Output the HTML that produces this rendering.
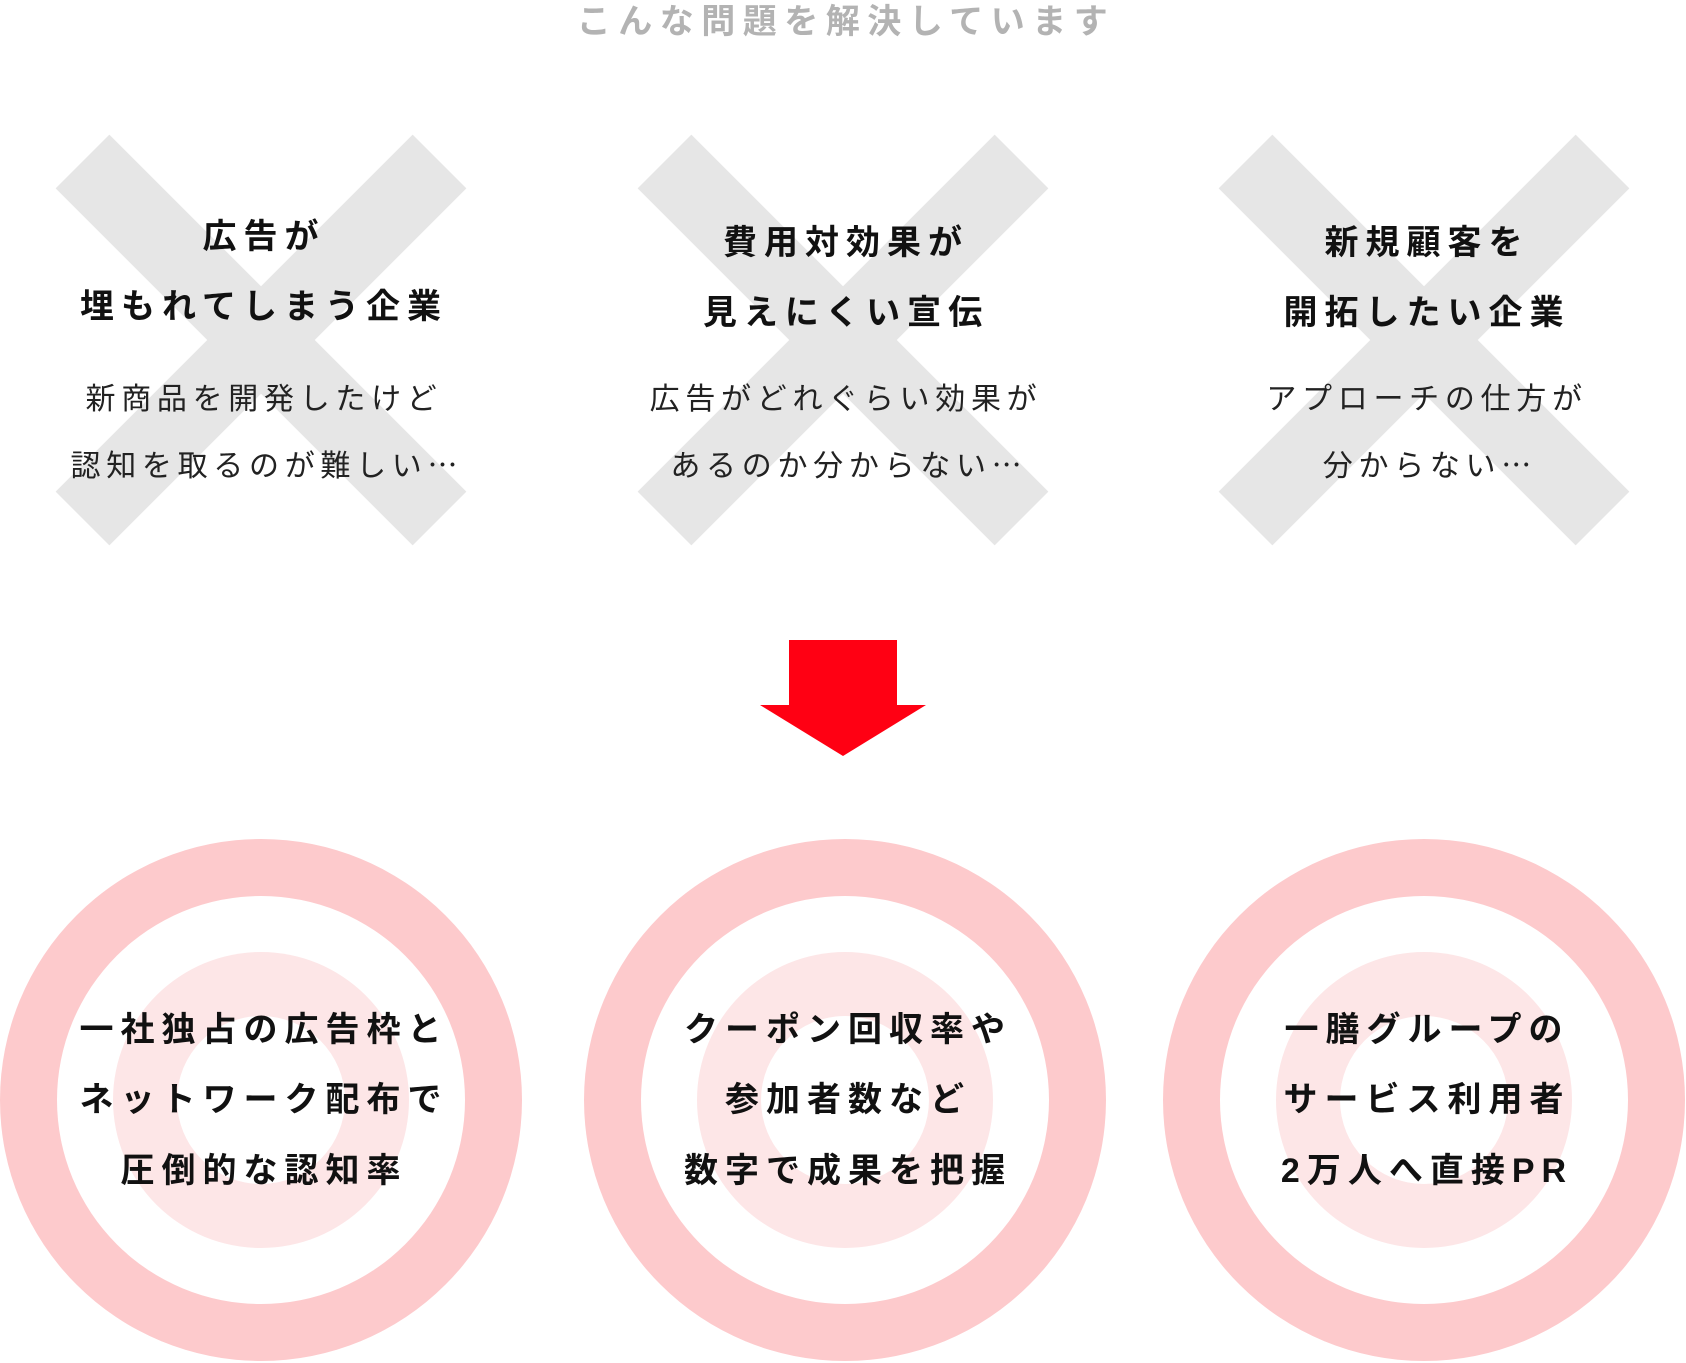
<!DOCTYPE html>
<html><head><meta charset="utf-8"><style>
html,body{margin:0;padding:0;background:#fff;}
body{width:1686px;height:1363px;position:relative;overflow:hidden;font-family:"Liberation Sans","Noto Sans CJK JP",sans-serif;}
.t{position:absolute;width:600px;margin-left:-300px;text-align:center;white-space:nowrap;line-height:1;}
.h{font-size:34px;font-weight:bold;letter-spacing:7px;color:#111;}
.n{font-size:30px;letter-spacing:5.7px;color:#222;}
.ttl{font-size:34px;font-weight:bold;letter-spacing:7.5px;color:#b3b3b3;}
.e{font-family:"Noto Sans CJK JP",sans-serif;letter-spacing:0;}
</style></head><body>
<svg width="1686" height="1363" style="position:absolute;left:0;top:0">
<g stroke="#e6e6e6" stroke-width="76" stroke-linecap="butt">
<line x1="82.5" y1="161.5" x2="439.5" y2="518.5"/><line x1="439.5" y1="161.5" x2="82.5" y2="518.5"/>
<line x1="664.5" y1="161.5" x2="1021.5" y2="518.5"/><line x1="1021.5" y1="161.5" x2="664.5" y2="518.5"/>
<line x1="1245.5" y1="161.5" x2="1602.5" y2="518.5"/><line x1="1602.5" y1="161.5" x2="1245.5" y2="518.5"/>
</g>
<rect x="789" y="640" width="108" height="66" fill="#ff0013"/>
<polygon points="760,705 926,705 843,756" fill="#ff0013"/>
<g>
<circle cx="261" cy="1100" r="261" fill="#fdcacc"/><circle cx="261" cy="1100" r="204" fill="#fff"/><circle cx="261" cy="1100" r="148" fill="#fde6e7"/><circle cx="261" cy="1100" r="84" fill="#fff"/>
<circle cx="845" cy="1100" r="261" fill="#fdcacc"/><circle cx="845" cy="1100" r="204" fill="#fff"/><circle cx="845" cy="1100" r="148" fill="#fde6e7"/><circle cx="845" cy="1100" r="84" fill="#fff"/>
<circle cx="1424" cy="1100" r="261" fill="#fdcacc"/><circle cx="1424" cy="1100" r="204" fill="#fff"/><circle cx="1424" cy="1100" r="148" fill="#fde6e7"/><circle cx="1424" cy="1100" r="84" fill="#fff"/>
</g>
</svg>
<div class="t ttl" style="left:846px;top:5px">こんな問題を解決しています</div>

<div class="t h" style="left:264px;top:220px">広告が</div>
<div class="t h" style="left:264px;top:290px">埋もれてしまう企業</div>
<div class="t n" style="left:264px;top:385px">新商品を開発したけど</div>
<div class="t n" style="left:264px;top:448px">認知を取るのが難しい<span class="e">…</span></div>

<div class="t h" style="left:846px;top:226px">費用対効果が</div>
<div class="t h" style="left:846px;top:296px">見えにくい宣伝</div>
<div class="t n" style="left:846px;top:385px">広告がどれぐらい効果が</div>
<div class="t n" style="left:846px;top:448px">あるのか分からない<span class="e">…</span></div>

<div class="t h" style="left:1427px;top:226px">新規顧客を</div>
<div class="t h" style="left:1427px;top:296px">開拓したい企業</div>
<div class="t n" style="left:1427px;top:385px">アプローチの仕方が</div>
<div class="t n" style="left:1427px;top:448px">分からない<span class="e">…</span></div>

<div class="t h" style="left:264px;top:1013px">一社独占の広告枠と</div>
<div class="t h" style="left:264px;top:1083px">ネットワーク配布で</div>
<div class="t h" style="left:264px;top:1154px">圧倒的な認知率</div>

<div class="t h" style="left:848px;top:1013px">クーポン回収率や</div>
<div class="t h" style="left:848px;top:1083px">参加者数など</div>
<div class="t h" style="left:848px;top:1154px">数字で成果を把握</div>

<div class="t h" style="left:1427px;top:1013px">一膳グループの</div>
<div class="t h" style="left:1427px;top:1083px">サービス利用者</div>
<div class="t h" style="left:1427px;top:1154px">2万人へ直接PR</div>
</body></html>
